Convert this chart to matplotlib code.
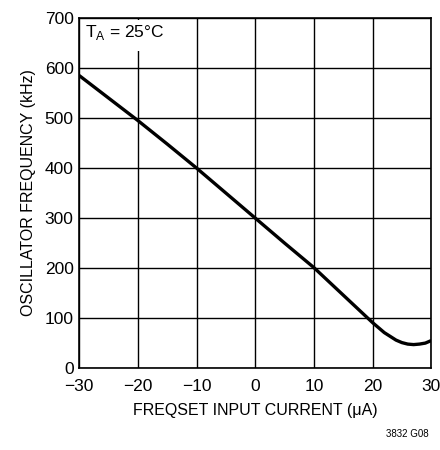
import matplotlib
matplotlib.use("Agg")
import matplotlib.pyplot as plt
from matplotlib.patches import Rectangle

# values
current_ua = [-30, -25, -20, -15, -10, -5, 0, 5, 10, 12, 14, 16, 18, 20, 22, 24, 25, 26, 27, 28, 29, 30]
freq_khz = [585, 540, 495, 448, 400, 350, 300, 250, 201, 179, 157, 135, 113, 91, 71, 56, 51, 48, 47, 48, 50, 55]

xticks = [-30, -20, -10, 0, 10, 20, 30]
xticklabels = ["\u221230", "\u221220", "\u221210", "0", "10", "20", "30"]
yticks = [0, 100, 200, 300, 400, 500, 600, 700]

plt.rcParams["font.family"] = ["Liberation Sans", "DejaVu Sans"]

fig = plt.figure(figsize=(4.4, 4.5), dpi=100)
ax = fig.add_axes([0.18, 0.182, 0.8, 0.778])

ax.plot(current_ua, freq_khz, color="black", linewidth=2.4, solid_capstyle="butt",
        solid_joinstyle="round")

ax.set_xlim(-30, 30)
ax.set_ylim(0, 700)
ax.set_xticks(xticks)
ax.set_xticklabels(xticklabels)
ax.set_yticks(yticks)
ax.grid(True, color="black", linewidth=1.0)
ax.tick_params(length=0, labelsize=12.5)
ax.tick_params(axis="x", pad=8)
ax.tick_params(axis="y", pad=4)
for s in ax.spines.values():
    s.set_linewidth(1.2)

ax.set_xlabel("FREQSET INPUT CURRENT (\u03bcA)", fontsize=11.5, labelpad=6)
ax.set_ylabel("OSCILLATOR FREQUENCY (kHz)", fontsize=11.5, labelpad=6)

# white patch behind the temperature note so the grid line stops below it
ax.add_patch(Rectangle((0.01, 0.905), 0.23, 0.09, transform=ax.transAxes,
                       facecolor="white", edgecolor="none", zorder=1.6))
ax.text(-29, 672, "T$_\\mathregular{A}$ = 25\u00b0C", fontsize=12.5, va="center", ha="left")

fig.text(0.975, 0.025, "3832 G08", fontsize=7, ha="right", va="bottom")

plt.savefig("out.png", dpi=100)
